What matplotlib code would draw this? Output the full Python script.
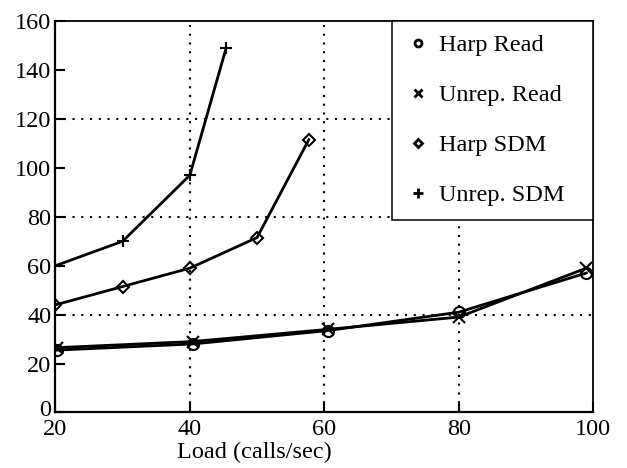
import matplotlib
matplotlib.use("Agg")
import matplotlib.pyplot as plt
import matplotlib.transforms as mtransforms
from matplotlib.lines import Line2D

# datos
carga_read = [20.2, 40.4, 60.6, 80, 99]
harp_read = [25.5, 28, 33.5, 41, 57]
unrep_read = [26.5, 29, 34, 39, 59]

carga_harp_sdm = [20, 30, 40, 50, 57.7]
harp_sdm = [44, 51.5, 59, 71.5, 111.5]

carga_unrep_sdm = [20, 30, 40, 45.4]
unrep_sdm = [60, 70, 97, 149]

series = [
    ("Harp Read", carga_read, harp_read, "o"),
    ("Unrep. Read", carga_read, unrep_read, "x"),
    ("Harp SDM", carga_harp_sdm, harp_sdm, "D"),
    ("Unrep. SDM", carga_unrep_sdm, unrep_sdm, "+"),
]

x_ticks = [20, 40, 60, 80, 100]
y_ticks = [0, 20, 40, 60, 80, 100, 120, 140, 160]
x_grid = [40, 60, 80]
y_grid = [40, 80, 120]

# tamanos de marcador (grafico, leyenda)
tam_marcador = {"o": (8, 5), "x": (8, 5.5), "D": (6, 4.5), "+": (9, 6.5)}

plt.rcParams['font.family'] = ['Liberation Serif', 'DejaVu Serif']
plt.rcParams['font.size'] = 17.5

fig = plt.figure(figsize=(6.27, 4.68), dpi=100)
ax = fig.add_axes([0.0885, 0.1186, 0.8573, 0.8364])

for xg in x_grid:
    ax.axvline(xg, color='black', lw=1.5, ls=(0, (1, 3.2)), zorder=1)
for yg in y_grid:
    ax.axhline(yg, color='black', lw=1.5, ls=(0, (1, 3.2)), zorder=1)

handles = []
for nombre, xs, ys, m in series:
    ms, ms_leg = tam_marcador[m]
    ax.plot(xs, ys, color='black', lw=2.0, marker=m, markersize=ms,
            markerfacecolor='none', markeredgecolor='black', mew=1.5, zorder=3)
    handles.append(Line2D([], [], ls='none', marker=m, markersize=ms_leg,
                          markerfacecolor='none', markeredgecolor='black', mew=2.0,
                          color='black', label=nombre))

ax.set_xlim(20, 100)
ax.set_ylim(0, 160)
ax.set_xticks(x_ticks)
ax.set_yticks(y_ticks)
ax.tick_params(direction='in', length=7, width=1.5, pad=3)
ax.tick_params(axis='x', pad=4.5)
for s in ax.spines.values():
    s.set_linewidth(1.6)
ax.spines['top'].set_linewidth(1.3)
ax.spines['right'].set_linewidth(1.3)

# el "0" del eje y va un poco mas arriba, como en el original
lbl0 = ax.get_yticklabels()[0]
lbl0.set_transform(lbl0.get_transform() + mtransforms.ScaledTranslation(0, 3 / 72, fig.dpi_scale_trans))

ax.set_xlabel('Load (calls/sec)')
ax.xaxis.set_label_coords(0.37, -0.075)

leg = ax.legend(handles=handles, loc='upper right', bbox_to_anchor=(0.6265, 0.0, 0.3735, 1.0),
                mode='expand', borderaxespad=0, borderpad=0.55, handlelength=1.0,
                handletextpad=0.36, labelspacing=1.15, fancybox=False, framealpha=1,
                edgecolor='black')
leg.get_frame().set_linewidth(1.1)

fig.savefig('out.png', dpi=100)
